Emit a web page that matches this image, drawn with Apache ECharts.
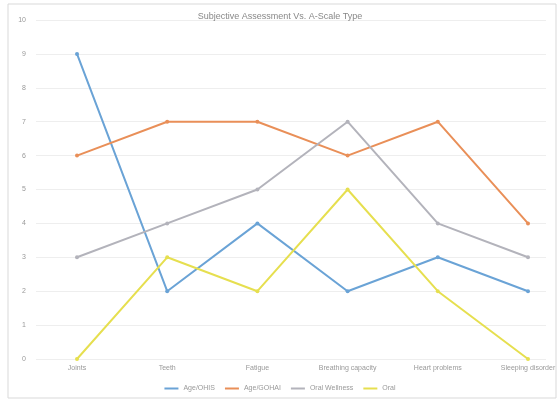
<!DOCTYPE html>
<html>
<head>
<meta charset="utf-8">
<script src="https://cdn.jsdelivr.net/npm/echarts@6/dist/echarts.min.js"></script>
<style>
  html, body { margin: 0; padding: 0; background: #fff; }
  #chart { width: 560px; height: 403px; }
</style>
</head>
<body>
<div id="chart"></div>
<script>
const categories = ['Joints', 'Teeth', 'Fatigue', 'Breathing capacity', 'Heart problems', 'Sleeping disorder'];
const seriesNames = ['Age/OHIS', 'Age/GOHAI', 'Oral Wellness', 'Oral'];
const ageOhis = [9, 2, 4, 2, 3, 2];
const ageGohai = [6, 7, 7, 6, 7, 4];
const oralWellness = [3, 4, 5, 7, 4, 3];
const oral = [0, 3, 2, 5, 2, 0];
const yTicks = [0, 1, 2, 3, 4, 5, 6, 7, 8, 9, 10];

const chart = echarts.init(document.getElementById('chart'));

function line(name, data, color) {
    return {
        name: name,
        type: 'line',
        data: data,
        symbol: 'circle',
        symbolSize: 4,
        lineStyle: { color: color, width: 2 },
        itemStyle: { color: color }
    };
}

const labelFont = { fontSize: 7, color: '#999', fontFamily: 'Liberation Sans' };

const option = {
    color: ['#6aa3d6', '#e98f58', '#b3b3bb', '#e6df4f'],
    title: {
        text: 'Subjective Assessment Vs. A-Scale Type',
        left: 'center',
        top: 7,
        textStyle: { fontSize: 9, fontWeight: 'normal', color: '#888', fontFamily: 'Liberation Sans' }
    },
    legend: {
        bottom: 6,
        left: 'center',
        itemWidth: 14,
        itemHeight: 2,
        itemGap: 10,
        icon: 'rect',
        textStyle: labelFont
    },
    // grid 0: the lines, grid 1: full-width gridlines and y labels behind them
    grid: [
        { left: 77, right: 32, top: 20, bottom: 44 },
        { left: 36, right: 14, top: 20, bottom: 44 }
    ],
    xAxis: [{
        type: 'category',
        data: categories,
        boundaryGap: false,
        gridIndex: 0,
        axisLine: { show: false },
        axisTick: { show: false },
        axisLabel: Object.assign({ margin: 6 }, labelFont)
    }, {
        type: 'value',
        gridIndex: 1,
        show: false
    }],
    yAxis: [{
        type: 'value',
        gridIndex: 0,
        min: 0,
        max: 10,
        interval: 1,
        axisLabel: { show: false },
        axisLine: { show: false },
        axisTick: { show: false },
        splitLine: { show: false }
    }, {
        type: 'value',
        gridIndex: 1,
        min: 0,
        max: 10,
        interval: 1,
        axisLine: { show: false },
        axisTick: { show: false },
        axisLabel: Object.assign({
            margin: 10,
            formatter: v => yTicks.includes(v) ? String(v) : ''
        }, labelFont),
        splitLine: { lineStyle: { color: '#eeeeee' } }
    }],
    series: [
        line(seriesNames[0], ageOhis, '#6aa3d6'),
        line(seriesNames[1], ageGohai, '#e98f58'),
        line(seriesNames[2], oralWellness, '#b3b3bb'),
        line(seriesNames[3], oral, '#e6df4f')
    ],
    graphic: [{
        type: 'rect',
        shape: { x: 8, y: 4, width: 548, height: 394 },
        style: { fill: 'none', stroke: '#d9d9d9', lineWidth: 1 }
    }]
};

chart.setOption(option);
window.addEventListener('resize', () => chart.resize());
</script>
</body>
</html>
